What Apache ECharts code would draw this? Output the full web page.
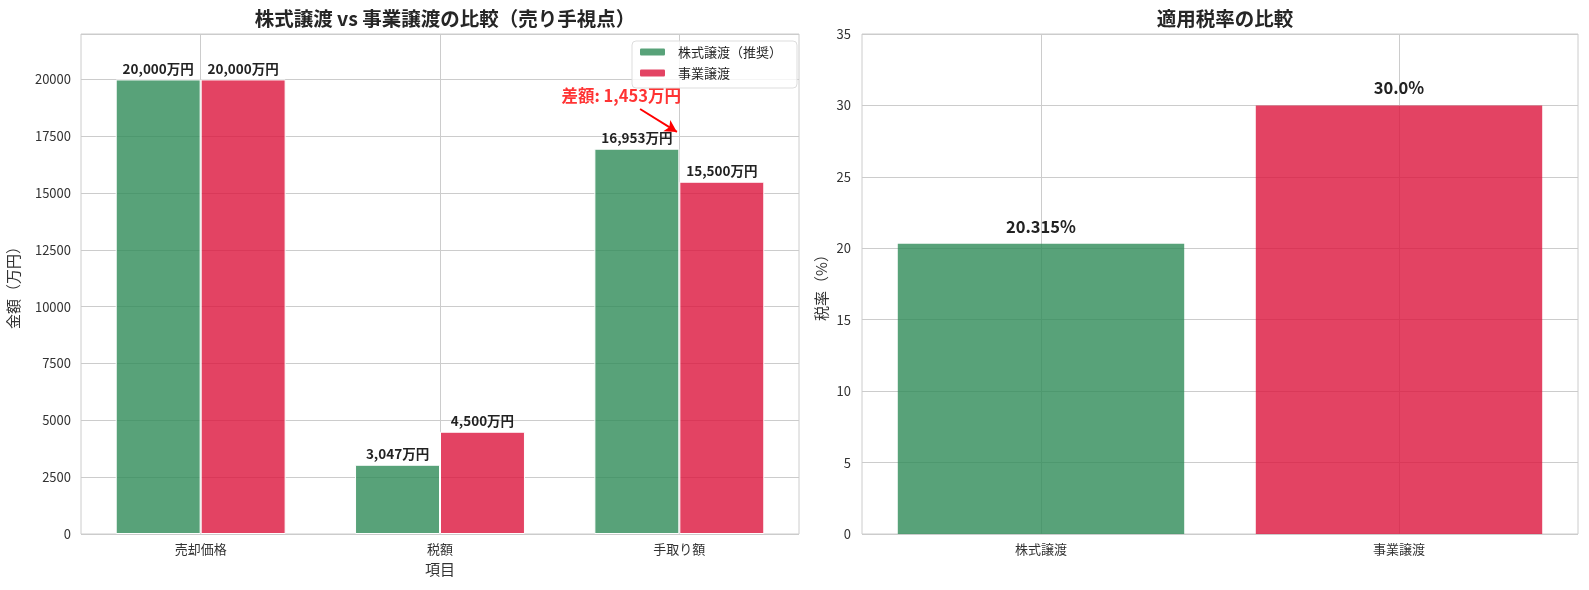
<!DOCTYPE html>
<html>
<head>
    <meta charset="utf-8">
    <style>
        html, body {
            height: 100%;
        }

        * {
            margin: 0;
            padding: 0;
        }

        #container {
            width: 1589px;
            height: 590px;
        }
    </style>
</head>
<body>
<div id="container"></div>
<script type="text/javascript" src="https://cdn.jsdelivr.net/npm/echarts@6/dist/echarts.min.js"></script>
<script type="text/javascript">
    // 左: 金額の比較
    let items = ['売却価格', '税額', '手取り額'];
    let shareValues = [20000, 3047, 16953];
    let businessValues = [20000, 4500, 15500];
    let seriesNames = ['株式譲渡（推奨）', '事業譲渡'];
    // 右: 税率
    let schemes = ['株式譲渡', '事業譲渡'];
    let taxRates = [20.315, 30.0];
    let taxLabels = ['20.315%', '30.0%'];
    // 差額の注釈 (データ座標)
    let noteText = '差額: 1,453万円';
    let notePos = [1.757, 19290];
    let arrowFrom = [1.836, 18700];
    let arrowTo = [1.99, 17690];

    const font = 'Noto Sans CJK JP';
    const green = 'rgba(46,139,87,0.8)';
    const red = 'rgba(220,20,60,0.8)';
    const gridColor = '#cccccc';

    let dom = document.getElementById("container");
    let myChart = echarts.init(dom);

    function fmtMan(v) {
        return v.toLocaleString('en-US') + '万円';
    }

    let barLabel = {
        show: true,
        position: 'top',
        distance: 4,
        fontFamily: font,
        fontWeight: 'bold',
        fontSize: 13.5,
        color: '#222',
        formatter: function (p) {
            return fmtMan(p.value);
        }
    };

    let option = {
        textStyle: {fontFamily: font},
        animation: false,
        title: [{
            text: '株式譲渡 vs 事業譲渡の比較（売り手視点）',
            left: 440, top: 4, textAlign: 'center',
            textStyle: {fontFamily: font, fontSize: 19.5, fontWeight: 'bold', color: '#262626'}
        }, {
            text: '適用税率の比較',
            left: 1220, top: 4, textAlign: 'center',
            textStyle: {fontFamily: font, fontSize: 19.5, fontWeight: 'bold', color: '#262626'}
        }],
        legend: {
            orient: 'vertical',
            left: 632, top: 41,
            itemWidth: 27, itemHeight: 9, itemGap: 7,
            padding: [4, 15, 8, 6],
            borderColor: '#dddddd', borderWidth: 1, borderRadius: 4,
            backgroundColor: 'rgba(255,255,255,0.8)',
            textStyle: {fontFamily: font, fontSize: 13, lineHeight: 14, color: '#262626', padding: [0, 0, 0, 7]},
            data: seriesNames
        },
        grid: [
            {left: 81, top: 34, width: 718, height: 500, show: true, borderColor: gridColor, borderWidth: 1},
            {left: 862, top: 34, width: 716, height: 500, show: true, borderColor: gridColor, borderWidth: 1}
        ],
        xAxis: [{
            type: 'category', gridIndex: 0, data: items,
            name: '項目', nameLocation: 'middle', nameGap: 28,
            nameTextStyle: {fontFamily: font, fontSize: 15, color: '#333'},
            axisLine: {show: false}, axisTick: {show: false},
            axisLabel: {fontFamily: font, fontSize: 13, color: '#333', margin: 9},
            splitLine: {show: true, alignWithLabel: true, lineStyle: {color: gridColor}}
        }, {
            type: 'value', gridIndex: 0, min: -0.5, max: 2.5, show: false
        }, {
            type: 'category', gridIndex: 1, data: schemes,
            axisLine: {show: false}, axisTick: {show: false},
            axisLabel: {fontFamily: font, fontSize: 13, color: '#333', margin: 9},
            splitLine: {show: true, alignWithLabel: true, lineStyle: {color: gridColor}}
        }],
        yAxis: [{
            type: 'value', gridIndex: 0, min: 0, max: 22000, interval: 2500,
            name: '金額（万円）', nameLocation: 'middle', nameGap: 60,
            nameTextStyle: {fontFamily: font, fontSize: 15, color: '#333'},
            axisLine: {show: false}, axisTick: {show: false},
            axisLabel: {
                fontFamily: font, fontSize: 13, color: '#333', margin: 10,
                formatter: function (v) { return v > 20000 ? '' : String(v); }
            },
            splitLine: {lineStyle: {color: gridColor}}
        }, {
            type: 'value', gridIndex: 1, min: 0, max: 35, interval: 5,
            name: '税率（%）', nameLocation: 'middle', nameGap: 33,
            nameTextStyle: {fontFamily: font, fontSize: 15, color: '#333'},
            axisLine: {show: false}, axisTick: {show: false},
            axisLabel: {fontFamily: font, fontSize: 13, color: '#333', margin: 11},
            splitLine: {lineStyle: {color: gridColor}}
        }],
        series: [{
            name: seriesNames[0], type: 'bar', xAxisIndex: 0, yAxisIndex: 0,
            data: shareValues, barWidth: '35.5%', barGap: '0%',
            itemStyle: {color: green, borderColor: '#fff', borderWidth: 1},
            label: barLabel
        }, {
            name: seriesNames[1], type: 'bar', xAxisIndex: 0, yAxisIndex: 0,
            data: businessValues, barWidth: '35.5%', barGap: '0%',
            itemStyle: {color: red, borderColor: '#fff', borderWidth: 1},
            label: barLabel
        }, {
            type: 'scatter', xAxisIndex: 1, yAxisIndex: 0,
            data: [notePos], symbolSize: 0, silent: true,
            label: {
                show: true, position: 'inside', formatter: noteText,
                fontFamily: font, fontSize: 16.5, fontWeight: 'bold', color: '#ff0000'
            },
            markLine: {
                silent: true, symbol: ['none', 'arrow'], symbolSize: [10, 12],
                label: {show: false},
                lineStyle: {color: '#ff0000', width: 2, type: 'solid', opacity: 1},
                data: [[{coord: arrowFrom}, {coord: arrowTo}]]
            }
        }, {
            type: 'bar', xAxisIndex: 2, yAxisIndex: 1,
            data: taxRates.map(function (v, i) {
                return {value: v, itemStyle: {color: i === 0 ? green : red}};
            }),
            barWidth: '80%',
            label: {
                show: true, position: 'top', distance: 9,
                fontFamily: font, fontWeight: 'bold', fontSize: 16.5, color: '#222',
                formatter: function (p) { return taxLabels[p.dataIndex]; }
            }
        }]
    };
    myChart.setOption(option, true);
</script>
</body>
</html>
